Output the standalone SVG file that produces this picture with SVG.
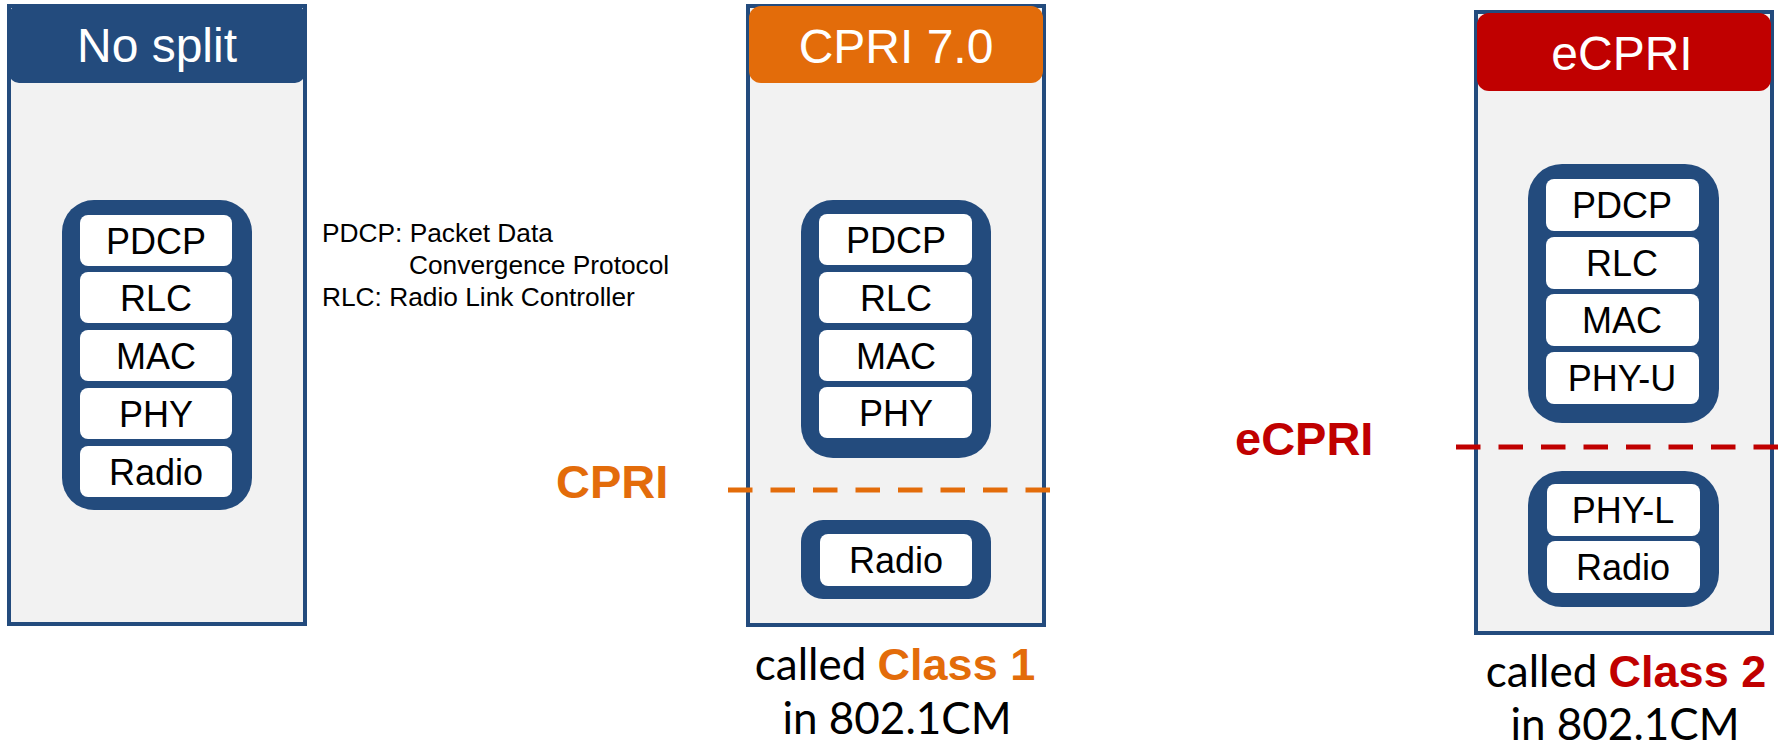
<svg xmlns="http://www.w3.org/2000/svg" width="1781" height="747" viewBox="0 0 1781 747">
<style>
.panel{fill:#F2F2F2;stroke:#234B7D;stroke-width:4}
.stack{fill:#234B7D}
.layer{fill:#FFFFFF}
.lt{font-family:"Liberation Sans",Arial,sans-serif;font-size:36px;fill:#000;text-anchor:middle}
.ht{font-family:"Liberation Sans",Arial,sans-serif;font-size:48px;fill:#FFFFFF;text-anchor:middle}
.leg{font-family:"Liberation Sans",Arial,sans-serif;font-size:26.3px;fill:#000}
.cap{font-family:Lato,"Liberation Sans",sans-serif;font-size:44px;fill:#000;text-anchor:middle}
.bold{font-family:"Liberation Sans",Arial,sans-serif;font-weight:bold}
</style>
<rect width="1781" height="747" fill="#FFFFFF"/>

<g id="no-split">
  <rect class="panel" x="9" y="6" width="296" height="618"/>
  <rect x="9" y="5" width="296" height="78" rx="10" fill="#234B7D"/>
  <text class="ht" x="157" y="62">No split</text>
  <rect class="stack" x="62" y="200" width="190" height="310" rx="32"/>
  <rect class="layer" x="80" y="215" width="152" height="51" rx="8"/>
  <rect class="layer" x="80" y="272" width="152" height="51" rx="8"/>
  <rect class="layer" x="80" y="330" width="152" height="51" rx="8"/>
  <rect class="layer" x="80" y="388" width="152" height="51" rx="8"/>
  <rect class="layer" x="80" y="446" width="152" height="51" rx="8"/>
  <text class="lt" x="156" y="253.5">PDCP</text>
  <text class="lt" x="156" y="310.5">RLC</text>
  <text class="lt" x="156" y="368.5">MAC</text>
  <text class="lt" x="156" y="426.5">PHY</text>
  <text class="lt" x="156" y="484.5">Radio</text>
</g>

<g id="legend">
  <text class="leg" x="322" y="242">PDCP: Packet Data</text>
  <text class="leg" x="409" y="274">Convergence Protocol</text>
  <text class="leg" x="322" y="306">RLC: Radio Link Controller</text>
</g>

<g id="cpri70">
  <rect class="panel" x="748" y="6" width="296" height="619"/>
  <rect x="749" y="6" width="294" height="77" rx="12" fill="#E36C0A"/>
  <text class="ht" x="896" y="63">CPRI 7.0</text>
  <rect class="stack" x="801" y="200" width="190" height="258" rx="32"/>
  <rect class="layer" x="819" y="214" width="153" height="51" rx="8"/>
  <rect class="layer" x="819" y="272" width="153" height="51" rx="8"/>
  <rect class="layer" x="819" y="330" width="153" height="51" rx="8"/>
  <rect class="layer" x="819" y="387" width="153" height="51" rx="8"/>
  <text class="lt" x="896" y="252.5">PDCP</text>
  <text class="lt" x="896" y="310.5">RLC</text>
  <text class="lt" x="896" y="368.5">MAC</text>
  <text class="lt" x="896" y="425.5">PHY</text>
  <rect class="stack" x="801" y="520" width="190" height="79" rx="22"/>
  <rect class="layer" x="820" y="534" width="152" height="52" rx="8"/>
  <text class="lt" x="896" y="573">Radio</text>
  <text class="cap" x="895" y="680"><tspan>called </tspan><tspan class="bold" fill="#E36C0A" font-size="45">Class 1</tspan></text>
  <text class="cap" x="897" y="734">in 802.1CM</text>
</g>

<g id="ecpri">
  <rect class="panel" x="1476" y="12" width="296" height="621"/>
  <rect x="1477" y="13" width="294" height="78" rx="12" fill="#C00000"/>
  <text class="ht" x="1622" y="70">eCPRI</text>
  <rect class="stack" x="1528" y="164" width="191" height="259" rx="34"/>
  <rect class="layer" x="1546" y="179" width="153" height="52" rx="8"/>
  <rect class="layer" x="1546" y="237" width="153" height="52" rx="8"/>
  <rect class="layer" x="1546" y="294" width="153" height="52" rx="8"/>
  <rect class="layer" x="1546" y="352" width="153" height="52" rx="8"/>
  <text class="lt" x="1622" y="218">PDCP</text>
  <text class="lt" x="1622" y="276">RLC</text>
  <text class="lt" x="1622" y="333">MAC</text>
  <text class="lt" x="1622" y="391">PHY-U</text>
  <rect class="stack" x="1528" y="471" width="191" height="136" rx="34"/>
  <rect class="layer" x="1547" y="484" width="153" height="52" rx="8"/>
  <rect class="layer" x="1547" y="541" width="153" height="52" rx="8"/>
  <text class="lt" x="1623" y="523">PHY-L</text>
  <text class="lt" x="1623" y="580">Radio</text>
  <text class="cap" x="1626" y="687"><tspan>called </tspan><tspan class="bold" fill="#C00000" font-size="45">Class 2</tspan></text>
  <text class="cap" x="1625" y="740">in 802.1CM</text>
</g>

<g id="connectors">
  <text class="bold" x="556" y="498" font-size="47" fill="#E36C0A">CPRI</text>
  <line x1="728" y1="490" x2="1052" y2="490" stroke="#E36C0A" stroke-width="5" stroke-dasharray="24.5 18"/>
  <text class="bold" x="1235" y="455" font-size="47" fill="#C00000">eCPRI</text>
  <line x1="1456" y1="447" x2="1781" y2="447" stroke="#C00000" stroke-width="5" stroke-dasharray="24.5 18"/>
</g>
</svg>
